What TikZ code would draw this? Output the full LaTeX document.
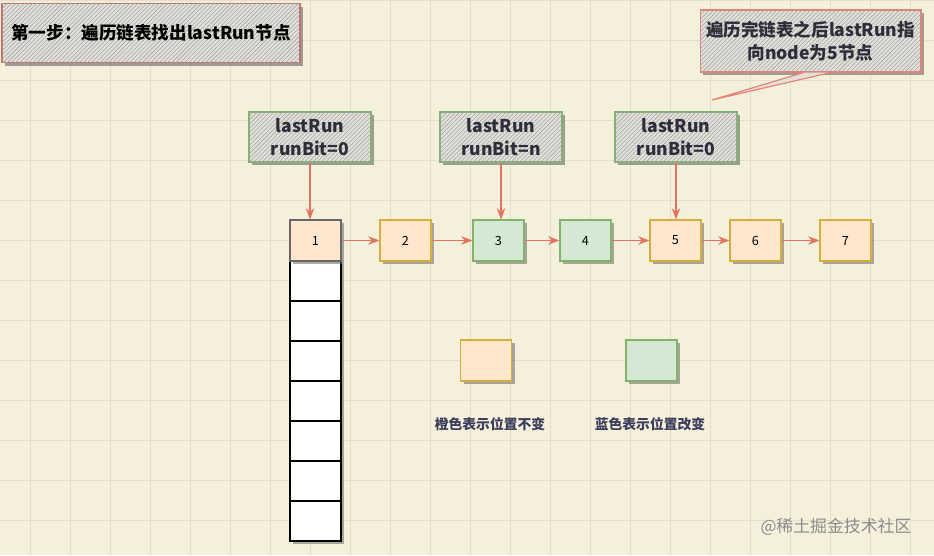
\documentclass[tikz,border=0pt]{standalone}
\usepackage{fontspec}
\setmainfont{Noto Sans CJK SC}
\usetikzlibrary{positioning, arrows.meta, patterns, shadows, calc}

\definecolor{paper}{HTML}{F4F0DC}
\definecolor{gridline}{HTML}{E3DFCA}
\definecolor{notegray}{HTML}{E2E0DA}
\definecolor{hatch}{HTML}{A8A6A0}
\definecolor{titlered}{HTML}{C96A6A}
\definecolor{calloutred}{HTML}{E8806E}
\definecolor{notegreen}{HTML}{7FB36E}
\definecolor{keepfill}{HTML}{FFE6CC}
\definecolor{keepdraw}{HTML}{D6AE3A}
\definecolor{movefill}{HTML}{D5E8D4}
\definecolor{movedraw}{HTML}{82B366}
\definecolor{linkred}{HTML}{E5735F}
\definecolor{inkdark}{HTML}{2E2E3A}
\definecolor{legendink}{HTML}{3E3E5C}

\begin{document}
\begin{tikzpicture}[x=0.025cm, y=-0.025cm,
  note/.style={draw=#1, thick, fill=notegray,
               postaction={pattern=north east lines, pattern color=hatch},
               drop shadow={shadow xshift=2.2pt, shadow yshift=-2.2pt, fill=black!60, opacity=0.6},
               align=center, text=inkdark, inner sep=2pt,
               font=\bfseries\fontsize{12.5}{16}\selectfont},
  cell/.style={minimum width=1.275cm, minimum height=1.025cm, inner sep=0pt,
               font=\fontsize{9}{11}\selectfont, text=black,
               drop shadow={shadow xshift=2.2pt, shadow yshift=-2.2pt, fill=black!60, opacity=0.55}},
  keep/.style={cell, draw=keepdraw, thick, fill=keepfill},
  moved/.style={cell, draw=movedraw, thick, fill=movefill},
  slot/.style={cell, draw=black, thick, fill=white, minimum height=1cm},
  arr/.style={-{Stealth[length=8pt, width=6pt]}, linkred, thick},
  legend/.style={font=\bfseries\fontsize{9.8}{12}\selectfont, text=legendink},
  watermark/.style={font=\fontsize{12}{14}\selectfont, text=black!45},
]
% paper and grid
\fill[paper] (0,0) rectangle (934,555);
\useasboundingbox (0,0) rectangle (934,555);
\foreach \gx in {30.7,70.7,...,934} \draw[gridline, line width=0.5pt] (\gx,0) -- (\gx,555);
\foreach \gy in {0.7,40.7,...,555} \draw[gridline, line width=0.5pt] (0,\gy) -- (934,\gy);

% headings
\node[note=titlered, minimum width=7.45cm, minimum height=1.475cm, text=black] (title) at (151,33) {第一步：遍历链表找出lastRun节点};
\node[note=calloutred, minimum width=5.52cm, minimum height=1.55cm] (callout) at (810.5,41) {遍历完链表之后lastRun指\\向node为5节点};
\coordinate (tip) at (712,100);
\draw[calloutred, thick, fill=notegray] ($(callout.south)+(-7,0)$) -- (tip) -- ($(callout.south)+(20,0)$);

% lastRun markers
\node[note=notegreen, minimum width=3.05cm, minimum height=1.25cm] (runA) at (310,137) {lastRun\\runBit=0};
\node[note=notegreen, minimum width=3.05cm, minimum height=1.25cm] (runB) at (501,137) {lastRun\\runBit=n};
\node[note=notegreen, minimum width=3.05cm, minimum height=1.25cm] (runC) at (676,137) {lastRun\\runBit=0};

% table slots
\foreach \i in {1,...,7} \node[slot] (s\i) at (315.5,{241+40*\i}) {};

% chain
\node[keep, draw=black!60] (n1) at (315.5,240.5) {1};
\node[keep]  (n2) at (405.5,240.5) {2};
\node[moved] (n3) at (498.5,240.5) {3};
\node[moved] (n4) at (585.5,240.5) {4};
\node[keep]  (n5) at (675.5,240.5) {5};
\node[keep]  (n6) at (755.5,240.5) {6};
\node[keep]  (n7) at (845.5,240.5) {7};
\foreach \a/\b in {n1/n2, n2/n3, n3/n4, n4/n5, n5/n6, n6/n7} \draw[arr] (\a) -- (\b);

\draw[arr] (runA.south) -- (runA.south |- n1.north);
\draw[arr] (runB.south) -- (runB.south |- n3.north);
\draw[arr] (runC.south) -- (runC.south |- n5.north);

% legend
\node[keep]  (keepkey) at (486,360.5) {};
\node[moved] (movekey) at (651.5,360.5) {};
\node[legend] (keeptext) at (490,424) {橙色表示位置不变};
\node[legend] (movetext) at (650,424) {蓝色表示位置改变};

\node[watermark] (site) at (836,527) {@稀土掘金技术社区};
\end{tikzpicture}
\end{document}
